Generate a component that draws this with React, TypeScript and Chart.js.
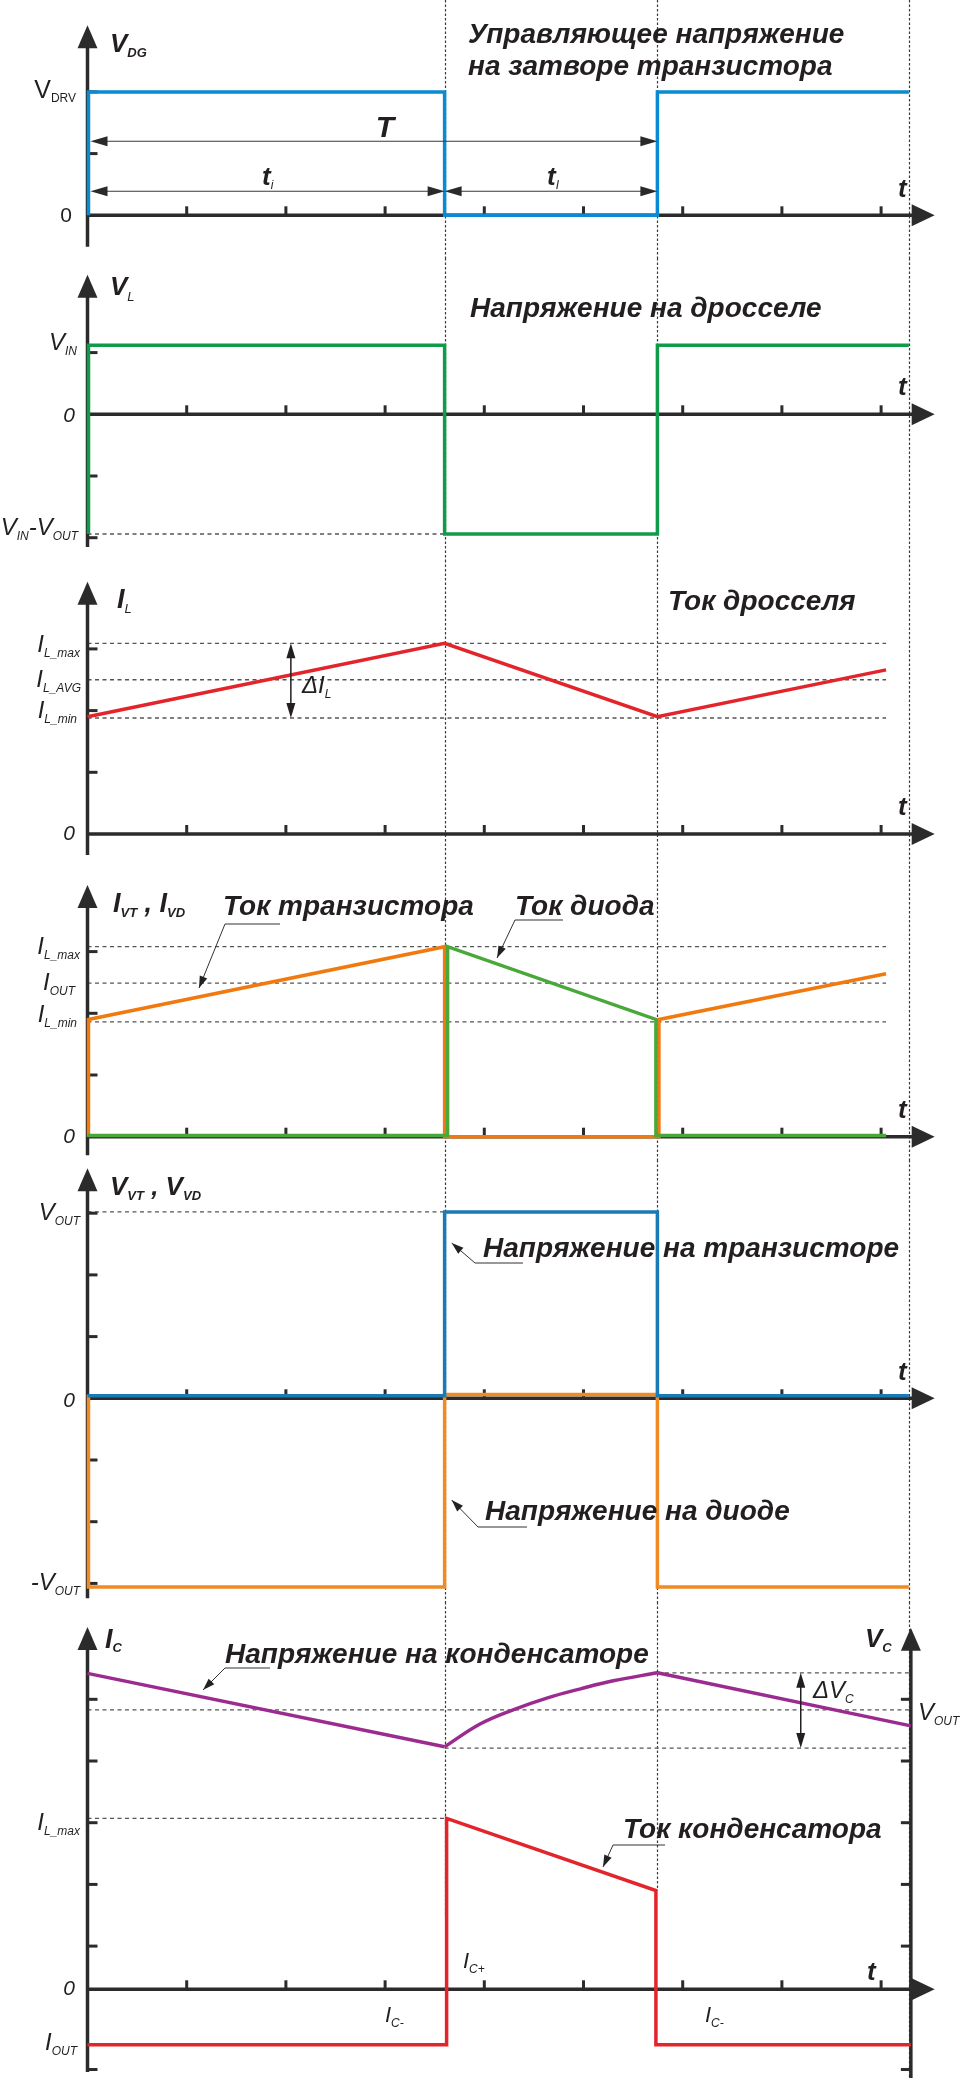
import React, { useEffect, useRef } from "react";
import { Chart, registerables } from "chart.js";
Chart.register(...registerables);

const FONT = '"Liberation Sans", Arial, Helvetica, sans-serif';
const AXIS = "#2b2b2b";
const TEXT = "#231f20";
const DASH = "#555555";
const TITLE = 28;

// ---- time axis (units of x ticks) ----
const X_TICKS = [1, 2, 3, 4, 5, 6, 7, 8];
const T_ON = 3.6;
const T_PERIOD = 5.745;
const T_END = 8.28;
const T_RAMP_END = 8.05;
const T_AXIS_END = 8.54;
const T_RIGHT_AXIS = 8.3;

// ---- panel 1: gate voltage ----
const VDG_T = [0.01, 0.01, T_ON, T_ON, T_PERIOD, T_PERIOD, T_END];
const VDG_V = [0, 2, 2, 0, 0, 2, 2];

// ---- panel 2: inductor voltage ----
const V_IN = 1.12;
const V_IN_MINUS_OUT = -1.94;
const VL_T = [0.01, 0.01, T_ON, T_ON, T_PERIOD, T_PERIOD, T_END];
const VL_V = [V_IN_MINUS_OUT, V_IN, V_IN, V_IN_MINUS_OUT, V_IN_MINUS_OUT, V_IN, V_IN];

// ---- panel 3: inductor current ----
const IL_MAX = 3.09;
const IL_AVG = 2.5;
const IL_MIN = 1.88;
const IL_T = [0, T_ON, T_PERIOD, T_RAMP_END];
const IL_V = [1.9, 3.09, 1.9, 2.66];

// ---- panel 4: transistor / diode currents ----
const I4_MAX = 3.08;
const I4_OUT = 2.49;
const I4_MIN = 1.86;
const IVT_T = [0.01, 0.01, T_ON, T_ON, T_PERIOD + 0.015, T_PERIOD + 0.015, T_RAMP_END];
const IVT_V = [0, 1.9, 3.08, 0, 0, 1.9, 2.64];
const IVD_T = [0, T_ON + 0.03, T_ON + 0.03, T_PERIOD - 0.015, T_PERIOD - 0.015, T_RAMP_END];
const IVD_V = [0.02, 0.02, 3.08, 1.9, 0.02, 0.02];

// ---- panel 5: transistor / diode voltages ----
const V_OUT = 3.02;
const VVT_T = [0, T_ON, T_ON, T_PERIOD, T_PERIOD, T_END];
const VVT_V = [0.04, 0.04, 3.02, 3.02, 0.04, 0.04];
const VVD_T = [0.01, 0.01, T_ON, T_ON, T_PERIOD, T_PERIOD, T_END];
const VVD_V = [0.06, -3.06, -3.06, 0.06, 0.06, -3.06, -3.06];

// ---- panel 6: capacitor current / voltage ----
const IC_LMAX = 2.77;
const IC_T = [0, T_ON + 0.02, T_ON + 0.02, T_PERIOD - 0.015, T_PERIOD - 0.015, T_RIGHT_AXIS];
const IC_V = [-0.9, -0.9, 2.77, 1.6, -0.9, -0.9];
const VC_MAX = 5.13;
const VC_AVG = 4.53;
const VC_MIN = 3.91;
const VC1_T = [0, T_ON];
const VC1_V = [5.12, 3.93];
const VC2_T = [T_ON, 3.957, 4.29, 4.63, 4.97, 5.3, T_PERIOD];
const VC2_V = [3.93, 4.3, 4.53, 4.72, 4.87, 5.0, 5.13];
const VC3_T = [T_PERIOD, T_RIGHT_AXIS];
const VC3_V = [5.13, 4.27];
const P6_TICKS = [0.7, 1.7, 2.7, 3.7, 4.7, -1.3];

// ---- layout ----
const W = 961;
const X_ORIGIN_PX = 87.5;
const X_UNIT_PX = 99.2;
const Y_UNIT_PX = 61.7;

type Seg = { t: string; s: number; b?: boolean; i?: boolean; dy?: number };
type Label = { x: number; y: number; a?: "left" | "right" | "center"; segs: Seg[] };
type Series = { t: number[]; v: number[]; color: string; order: number; smooth?: boolean; w?: number };
type YAxis = { x: number; lo: number; hi: number; ticks: number[]; dir: number };
type Spec = {
  top: number;
  height: number;
  zeroPx: number;
  series: Series[];
  yAxes: YAxis[];
  dashed: { y: number; x0: number; x1: number }[];
  dotted: { x: number; lo?: number }[];
  vArrows: { x: number; y0: number; y1: number }[];
  hArrows: { y: number; x0: number; x1: number }[];
  leaders: number[][][];
  labels: Label[];
};

const BI = (t: string, s: number, dy = 0): Seg => ({ t, s, b: true, i: true, dy });
const IT = (t: string, s: number, dy = 0): Seg => ({ t, s, i: true, dy });
const RG = (t: string, s: number, dy = 0): Seg => ({ t, s, dy });

const DOT_ALL = [{ x: T_ON }, { x: T_PERIOD }, { x: T_END }];

const PANELS: Spec[] = [
  {
    top: 0,
    height: 258,
    zeroPx: 215.3,
    series: [{ t: VDG_T, v: VDG_V, color: "#0a8ad2", order: 0 }],
    yAxes: [{ x: 0, lo: -0.51, hi: 3.08, ticks: [1, 2], dir: 1 }],
    dashed: [],
    dotted: DOT_ALL,
    vArrows: [],
    hArrows: [
      { y: 1.2, x0: 0.03, x1: T_PERIOD },
      { y: 0.39, x0: 0.03, x1: T_ON },
      { y: 0.39, x0: T_ON, x1: T_PERIOD },
    ],
    leaders: [],
    labels: [
      { x: 76, y: 98, a: "right", segs: [RG("V", 25), RG("DRV", 12, 4)] },
      { x: 72, y: 222, a: "right", segs: [RG("0", 21)] },
      { x: 110, y: 52, segs: [BI("V", 26), BI("DG", 13, 5)] },
      { x: 385, y: 137, a: "center", segs: [BI("T", 30)] },
      { x: 262, y: 185, segs: [BI("t", 26), IT("i", 12, 4)] },
      { x: 547, y: 185, segs: [BI("t", 26), IT("I", 12, 4)] },
      { x: 898, y: 197, segs: [BI("t", 26)] },
      { x: 468, y: 43, segs: [BI("Управляющее напряжение", TITLE)] },
      { x: 468, y: 75, segs: [BI("на затворе транзистора", TITLE)] },
    ],
  },
  {
    top: 258,
    height: 302,
    zeroPx: 414.3,
    series: [{ t: VL_T, v: VL_V, color: "#0f9b4a", order: 0 }],
    yAxes: [{ x: 0, lo: -2.15, hi: 2.26, ticks: [1, -1, -2], dir: 1 }],
    dashed: [{ y: V_IN_MINUS_OUT, x0: 0, x1: T_ON }],
    dotted: DOT_ALL,
    vArrows: [],
    hArrows: [],
    leaders: [],
    labels: [
      { x: 110, y: 295, segs: [BI("V", 26), IT("L", 13, 6)] },
      { x: 77, y: 350, a: "right", segs: [IT("V", 24), IT("IN", 12, 5)] },
      { x: 75, y: 422, a: "right", segs: [IT("0", 21)] },
      { x: 78, y: 535, a: "right", segs: [IT("V", 24), IT("IN", 12, 5), IT("-", 24), IT("V", 24), IT("OUT", 12, 5)] },
      { x: 470, y: 317, segs: [BI("Напряжение на дросселе", TITLE)] },
      { x: 898, y: 395, segs: [BI("t", 26)] },
    ],
  },
  {
    top: 560,
    height: 306,
    zeroPx: 834,
    series: [{ t: IL_T, v: IL_V, color: "#e3242b", order: 0 }],
    yAxes: [{ x: 0, lo: -0.34, hi: 4.09, ticks: [1, 2, 3], dir: 1 }],
    dashed: [
      { y: IL_MAX, x0: 0, x1: T_RAMP_END },
      { y: IL_AVG, x0: 0, x1: T_RAMP_END },
      { y: IL_MIN, x0: 0, x1: T_RAMP_END },
    ],
    dotted: DOT_ALL,
    vArrows: [{ x: 2.05, y0: IL_MAX, y1: IL_MIN }],
    hArrows: [],
    leaders: [],
    labels: [
      { x: 117, y: 608, segs: [BI("I", 27), IT("L", 13, 5)] },
      { x: 80, y: 652, a: "right", segs: [IT("I", 24), IT("L_max", 12, 5)] },
      { x: 81, y: 687, a: "right", segs: [IT("I", 24), IT("L_AVG", 12, 5)] },
      { x: 77, y: 718, a: "right", segs: [IT("I", 24), IT("L_min", 12, 5)] },
      { x: 75, y: 840, a: "right", segs: [IT("0", 21)] },
      { x: 302, y: 693, segs: [IT("ΔI", 24), IT("L", 12, 5)] },
      { x: 668, y: 610, segs: [BI("Ток дросселя", TITLE)] },
      { x: 898, y: 815, segs: [BI("t", 26)] },
    ],
  },
  {
    top: 866,
    height: 294,
    zeroPx: 1136.7,
    series: [
      { t: IVT_T, v: IVT_V, color: "#f07a10", order: 1 },
      { t: IVD_T, v: IVD_V, color: "#4aa83a", order: 0 },
    ],
    yAxes: [{ x: 0, lo: -0.3, hi: 4.08, ticks: [1, 2, 3], dir: 1 }],
    dashed: [
      { y: I4_MAX, x0: 0, x1: T_RAMP_END },
      { y: I4_OUT, x0: 0, x1: T_RAMP_END },
      { y: I4_MIN, x0: 0, x1: T_RAMP_END },
    ],
    dotted: DOT_ALL,
    vArrows: [],
    hArrows: [],
    leaders: [
      [[280, 924], [225, 924], [199, 988]],
      [[563, 920], [515, 920], [497, 958]],
    ],
    labels: [
      { x: 113, y: 912, segs: [BI("I", 27), BI("VT", 13, 5), BI(" , ", 27), BI("I", 27), BI("VD", 13, 5)] },
      { x: 223, y: 915, segs: [BI("Ток транзистора", TITLE)] },
      { x: 515, y: 915, segs: [BI("Ток диода", TITLE)] },
      { x: 80, y: 954, a: "right", segs: [IT("I", 24), IT("L_max", 12, 5)] },
      { x: 75, y: 990, a: "right", segs: [IT("I", 24), IT("OUT", 12, 5)] },
      { x: 77, y: 1022, a: "right", segs: [IT("I", 24), IT("L_min", 12, 5)] },
      { x: 75, y: 1143, a: "right", segs: [IT("0", 21)] },
      { x: 898, y: 1118, segs: [BI("t", 26)] },
    ],
  },
  {
    top: 1160,
    height: 442,
    zeroPx: 1398.3,
    series: [
      { t: VVT_T, v: VVT_V, color: "#1a7ab8", order: 0 },
      { t: VVD_T, v: VVD_V, color: "#f08a24", order: 1 },
    ],
    yAxes: [{ x: 0, lo: -3.24, hi: 3.73, ticks: [3, 2, 1, -1, -2, -3], dir: 1 }],
    dashed: [{ y: V_OUT, x0: 0, x1: T_ON }],
    dotted: DOT_ALL,
    vArrows: [],
    hArrows: [],
    leaders: [
      [[523, 1263], [475, 1263], [451.7, 1243]],
      [[527, 1527], [478, 1527], [451.7, 1500]],
    ],
    labels: [
      { x: 110, y: 1195, segs: [BI("V", 26), BI("VT", 13, 5), BI(" , ", 26), BI("V", 26), BI("VD", 13, 5)] },
      { x: 80, y: 1220, a: "right", segs: [IT("V", 24), IT("OUT", 12, 5)] },
      { x: 75, y: 1407, a: "right", segs: [IT("0", 21)] },
      { x: 80, y: 1590, a: "right", segs: [IT("-V", 24), IT("OUT", 12, 5)] },
      { x: 483, y: 1257, segs: [BI("Напряжение на транзисторе", TITLE)] },
      { x: 485, y: 1520, segs: [BI("Напряжение на диоде", TITLE)] },
      { x: 898, y: 1380, segs: [BI("t", 26)] },
    ],
  },
  {
    top: 1602,
    height: 476,
    zeroPx: 1989.3,
    series: [
      { t: IC_T, v: IC_V, color: "#e3242b", order: 0 },
      { t: VC1_T, v: VC1_V, color: "#9c2b8f", order: 1 },
      { t: VC2_T, v: VC2_V, color: "#9c2b8f", order: 1, smooth: true },
      { t: VC3_T, v: VC3_V, color: "#9c2b8f", order: 1 },
    ],
    yAxes: [
      { x: 0, lo: -1.34, hi: 5.87, ticks: P6_TICKS, dir: 1 },
      { x: T_RIGHT_AXIS, lo: -1.5, hi: 5.86, ticks: P6_TICKS, dir: -1 },
    ],
    dashed: [
      { y: VC_AVG, x0: 0, x1: T_RIGHT_AXIS },
      { y: VC_MAX, x0: T_PERIOD, x1: T_RIGHT_AXIS },
      { y: VC_MIN, x0: T_ON, x1: T_RIGHT_AXIS },
      { y: IC_LMAX, x0: 0, x1: T_ON },
    ],
    dotted: [{ x: T_ON, lo: 1.17 }, { x: T_PERIOD, lo: 1.6 }, { x: T_END }],
    vArrows: [{ x: 7.19, y0: VC_MAX, y1: VC_MIN }],
    hArrows: [],
    leaders: [
      [[270, 1668], [225, 1668], [203, 1690]],
      [[665, 1845], [613, 1845], [603, 1867]],
    ],
    labels: [
      { x: 105, y: 1648, segs: [BI("I", 27), BI("C", 13, 4)] },
      { x: 865, y: 1647, segs: [BI("V", 26), BI("C", 13, 5)] },
      { x: 80, y: 1830, a: "right", segs: [IT("I", 24), IT("L_max", 12, 5)] },
      { x: 75, y: 1995, a: "right", segs: [IT("0", 21)] },
      { x: 77, y: 2050, a: "right", segs: [IT("I", 24), IT("OUT", 12, 5)] },
      { x: 918, y: 1720, segs: [IT("V", 24), IT("OUT", 12, 5)] },
      { x: 813, y: 1698, segs: [IT("ΔV", 24), IT("C", 12, 5)] },
      { x: 463, y: 1968, segs: [IT("I", 22), IT("C+", 12, 5)] },
      { x: 385, y: 2022, segs: [IT("I", 22), IT("C-", 12, 5)] },
      { x: 705, y: 2022, segs: [IT("I", 22), IT("C-", 12, 5)] },
      { x: 225, y: 1663, segs: [BI("Напряжение на конденсаторе", TITLE)] },
      { x: 623, y: 1838, segs: [BI("Ток конденсатора", TITLE)] },
      { x: 867, y: 1980, segs: [BI("t", 26)] },
    ],
  },
];

const fontOf = (s: Seg) => `${s.i ? "italic " : ""}${s.b ? "bold " : ""}${s.s}px ${FONT}`;

function arrowHead(ctx: CanvasRenderingContext2D, tx: number, ty: number, dx: number, dy: number, len: number, hw: number) {
  const n = Math.hypot(dx, dy) || 1;
  const ux = dx / n, uy = dy / n;
  const bx = tx - ux * len, by = ty - uy * len;
  ctx.beginPath();
  ctx.moveTo(tx, ty);
  ctx.lineTo(bx - uy * hw, by + ux * hw);
  ctx.lineTo(bx + uy * hw, by - ux * hw);
  ctx.closePath();
  ctx.fill();
}

function makeConfig(spec: Spec): any {
  const xMin = -X_ORIGIN_PX / X_UNIT_PX;
  const xMax = (W - X_ORIGIN_PX) / X_UNIT_PX;
  const yMax = (spec.zeroPx - spec.top) / Y_UNIT_PX;
  const yMin = -(spec.top + spec.height - spec.zeroPx) / Y_UNIT_PX;

  const overlay = {
    id: "overlay",
    beforeDatasetsDraw(chart: any) {
      const ctx: CanvasRenderingContext2D = chart.ctx;
      const X = (v: number) => chart.scales.x.getPixelForValue(v);
      const Y = (v: number) => chart.scales.y.getPixelForValue(v);
      ctx.save();
      // vertical dotted guides
      ctx.strokeStyle = "#3a3a3a";
      ctx.lineWidth = 1.2;
      ctx.setLineDash([2.5, 2]);
      for (const d of spec.dotted) {
        ctx.beginPath();
        ctx.moveTo(Math.round(X(d.x)) + 0.5, 0);
        ctx.lineTo(Math.round(X(d.x)) + 0.5, d.lo !== undefined ? Y(d.lo) : spec.height);
        ctx.stroke();
      }
      // horizontal dashed levels
      ctx.strokeStyle = DASH;
      ctx.lineWidth = 1.3;
      ctx.setLineDash([4, 3.5]);
      for (const d of spec.dashed) {
        ctx.beginPath();
        ctx.moveTo(X(d.x0), Y(d.y));
        ctx.lineTo(X(d.x1), Y(d.y));
        ctx.stroke();
      }
      ctx.setLineDash([]);
      // axes
      ctx.strokeStyle = AXIS;
      ctx.fillStyle = AXIS;
      ctx.lineWidth = 3.5;
      const y0 = Y(0);
      ctx.beginPath();
      ctx.moveTo(X(0) - 1.5, y0);
      ctx.lineTo(X(T_AXIS_END) - 20, y0);
      ctx.stroke();
      arrowHead(ctx, X(T_AXIS_END), y0, 1, 0, 23, 11);
      ctx.lineWidth = 3;
      for (const t of X_TICKS) {
        ctx.beginPath();
        ctx.moveTo(X(t), y0);
        ctx.lineTo(X(t), y0 - 9);
        ctx.stroke();
      }
      for (const a of spec.yAxes) {
        const ax = X(a.x);
        ctx.lineWidth = 3.5;
        ctx.beginPath();
        ctx.moveTo(ax, Y(a.lo));
        ctx.lineTo(ax, Y(a.hi) + 20);
        ctx.stroke();
        arrowHead(ctx, ax, Y(a.hi), 0, -1, 23, 10);
        ctx.lineWidth = 3;
        for (const t of a.ticks) {
          ctx.beginPath();
          ctx.moveTo(ax, Y(t));
          ctx.lineTo(ax + a.dir * 10, Y(t));
          ctx.stroke();
        }
      }
      ctx.restore();
    },
    afterDatasetsDraw(chart: any) {
      const ctx: CanvasRenderingContext2D = chart.ctx;
      const X = (v: number) => chart.scales.x.getPixelForValue(v);
      const Y = (v: number) => chart.scales.y.getPixelForValue(v);
      const top = spec.top;
      ctx.save();
      ctx.strokeStyle = TEXT;
      ctx.fillStyle = TEXT;
      // double vertical arrows
      for (const a of spec.vArrows) {
        const x = X(a.x), ya = Y(a.y0), yb = Y(a.y1);
        ctx.lineWidth = 1.5;
        ctx.beginPath();
        ctx.moveTo(x, ya + 10);
        ctx.lineTo(x, yb - 10);
        ctx.stroke();
        arrowHead(ctx, x, ya, 0, -1, 15, 4.5);
        arrowHead(ctx, x, yb, 0, 1, 15, 4.5);
      }
      // double horizontal arrows
      for (const a of spec.hArrows) {
        const y = Y(a.y), xa = X(a.x0), xb = X(a.x1);
        ctx.strokeStyle = "#3a3a3a";
        ctx.fillStyle = "#2a2a2a";
        ctx.lineWidth = 1.2;
        ctx.beginPath();
        ctx.moveTo(xa + 10, y);
        ctx.lineTo(xb - 10, y);
        ctx.stroke();
        arrowHead(ctx, xa, y, -1, 0, 17, 5);
        arrowHead(ctx, xb, y, 1, 0, 17, 5);
      }
      // leader lines
      ctx.strokeStyle = "#333";
      ctx.fillStyle = "#222";
      for (const pts of spec.leaders) {
        ctx.lineWidth = 1;
        ctx.beginPath();
        pts.forEach((p, i) => (i === 0 ? ctx.moveTo(p[0], p[1] - top) : ctx.lineTo(p[0], p[1] - top)));
        ctx.stroke();
        const a = pts[pts.length - 2], b = pts[pts.length - 1];
        arrowHead(ctx, b[0], b[1] - top, b[0] - a[0], b[1] - a[1], 12, 4);
      }
      // labels
      ctx.fillStyle = TEXT;
      ctx.textBaseline = "alphabetic";
      ctx.textAlign = "left";
      for (const lab of spec.labels) {
        let w = 0;
        for (const s of lab.segs) {
          ctx.font = fontOf(s);
          w += ctx.measureText(s.t).width;
        }
        let x = lab.a === "right" ? lab.x - w : lab.a === "center" ? lab.x - w / 2 : lab.x;
        for (const s of lab.segs) {
          ctx.font = fontOf(s);
          ctx.fillText(s.t, x, lab.y - top + (s.dy || 0));
          x += ctx.measureText(s.t).width;
        }
      }
      ctx.restore();
    },
  };

  return {
    type: "line",
    data: {
      datasets: spec.series.map((s) => ({
        data: s.t.map((t, i) => ({ x: t, y: s.v[i] })),
        borderColor: s.color,
        borderWidth: s.w || 3.5,
        borderJoinStyle: "miter",
        borderCapStyle: "butt",
        pointRadius: 0,
        pointHoverRadius: 0,
        fill: false,
        tension: s.smooth ? 0.4 : 0,
        cubicInterpolationMode: "default",
        clip: false,
        order: s.order,
      })),
    },
    options: {
      animation: false,
      responsive: false,
      maintainAspectRatio: false,
      events: [],
      layout: { padding: 0 },
      plugins: { legend: { display: false }, tooltip: { enabled: false }, title: { display: false } },
      scales: {
        x: { type: "linear", display: false, min: xMin, max: xMax },
        y: { type: "linear", display: false, min: yMin, max: yMax },
      },
    },
    plugins: [overlay],
  };
}

function Panel({ spec }: { spec: Spec }) {
  const ref = useRef<HTMLCanvasElement>(null);
  useEffect(() => {
    if (!ref.current) return;
    const chart = new Chart(ref.current, makeConfig(spec));
    return () => chart.destroy();
  }, [spec]);
  return (
    <canvas
      ref={ref}
      width={W}
      height={spec.height}
      style={{ position: "absolute", left: 0, top: spec.top, width: W, height: spec.height, display: "block" }}
    />
  );
}

export default function App() {
  return (
    <div style={{ position: "absolute", left: 0, top: 0, width: W, height: 2078, background: "#ffffff", overflow: "hidden" }}>
      {PANELS.map((p, i) => (
        <Panel key={i} spec={p} />
      ))}
    </div>
  );
}
